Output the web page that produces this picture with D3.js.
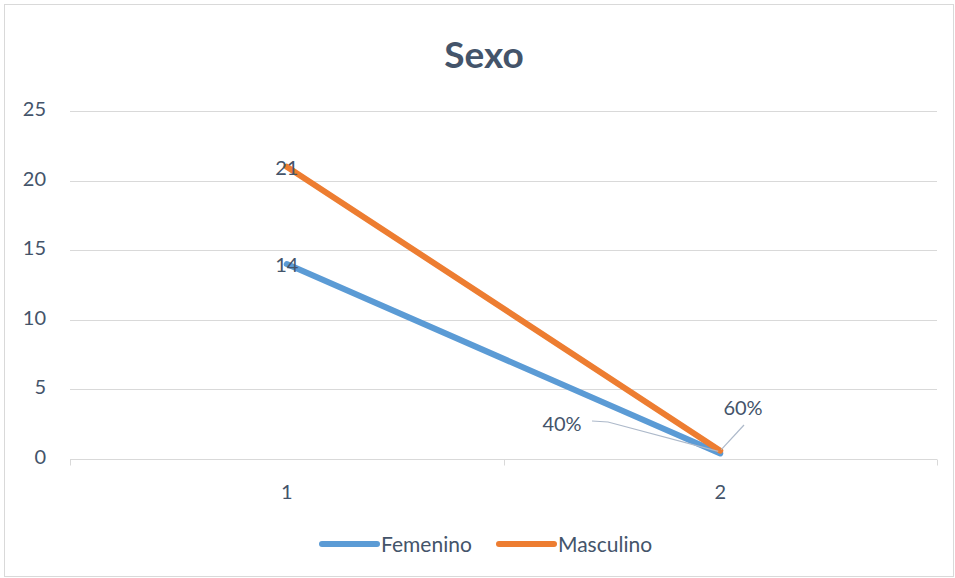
<!DOCTYPE html>
<html>
<head>
<meta charset="utf-8">
<script src="https://cdn.jsdelivr.net/npm/d3@7"></script>
<style>
  html, body { margin: 0; padding: 0; background: #fff; }
  svg { display: block; font-family: Lato, "Open Sans", sans-serif; }
</style>
</head>
<body>
<svg id="chart" width="955" height="578"></svg>
<script>
// Categories along the x axis
const categories = ["1", "2"];
// Series values per category
const femenino = [14, 0.4];
const masculino = [21, 0.6];
const seriesNames = ["Femenino", "Masculino"];
const seriesColors = ["#5B9BD5", "#ED7D31"];
// Y axis ticks
const yTicks = [0, 5, 10, 15, 20, 25];

const svg = d3.select("#chart");
const W = 955, H = 578;
const margin = { left: 70, right: 18, top: 111, bottom: 119 };
const textColor = "#44546A";

// chart frame
svg.append("rect")
  .attr("x", 4.5).attr("y", 4.5)
  .attr("width", W - 6).attr("height", H - 6)
  .attr("fill", "#fff").attr("stroke", "#D9D9D9").attr("stroke-width", 1);

const x = d3.scaleBand().domain(categories)
  .range([margin.left, W - margin.right]).padding(0);
const y = d3.scaleLinear().domain([0, 25])
  .range([H - margin.bottom, margin.top]);

// title
svg.append("text")
  .attr("x", 484).attr("y", 68)
  .attr("text-anchor", "middle")
  .attr("font-size", 37).attr("font-weight", "bold")
  .attr("fill", textColor)
  .text("Sexo");

// gridlines
svg.append("g").selectAll("line")
  .data(yTicks.filter(d => d > 0))
  .join("line")
  .attr("x1", margin.left).attr("x2", W - margin.right)
  .attr("y1", d => Math.round(y(d)) + 0.5).attr("y2", d => Math.round(y(d)) + 0.5)
  .attr("stroke", "#D9D9D9").attr("stroke-width", 1);

// y axis labels
const yAxis = svg.append("g")
  .attr("transform", `translate(${margin.left},0)`)
  .call(d3.axisLeft(y).tickValues(yTicks).tickSize(0).tickPadding(24));
yAxis.select(".domain").remove();
yAxis.selectAll("text")
  .attr("font-size", 20).attr("fill", textColor)
  .attr("font-family", "Lato, 'Open Sans', sans-serif")
  .attr("dy", "0.22em");

// x axis with category boundary ticks
const x0 = Math.round(y(0)) + 0.5;
const xAxisG = svg.append("g");
xAxisG.append("line")
  .attr("x1", margin.left).attr("x2", W - margin.right)
  .attr("y1", x0).attr("y2", x0)
  .attr("stroke", "#D9D9D9").attr("stroke-width", 1);
const boundaries = categories.map(c => x(c)).concat([x(categories[categories.length - 1]) + x.bandwidth()]);
xAxisG.selectAll("line.tick")
  .data(boundaries)
  .join("line").attr("class", "tick")
  .attr("x1", d => Math.round(d) + 0.5).attr("x2", d => Math.round(d) + 0.5)
  .attr("y1", x0).attr("y2", x0 + 6)
  .attr("stroke", "#D9D9D9").attr("stroke-width", 1);
xAxisG.selectAll("text")
  .data(categories)
  .join("text")
  .attr("x", d => x(d) + x.bandwidth() / 2)
  .attr("y", x0 + 39)
  .attr("text-anchor", "middle")
  .attr("font-size", 20).attr("fill", textColor)
  .text(d => d);

// lines
const cx = c => x(c) + x.bandwidth() / 2;
const series = [femenino, masculino];
const line = d3.line().x((d, i) => cx(categories[i])).y(d => y(d));
series.forEach((vals, si) => {
  svg.append("path")
    .datum(vals)
    .attr("d", line)
    .attr("fill", "none")
    .attr("stroke", seriesColors[si])
    .attr("stroke-width", 6)
    .attr("stroke-linecap", "round")
    .attr("stroke-linejoin", "round");
});

// data labels on the first category
const labG = svg.append("g").attr("font-size", 20).attr("fill", textColor);
series.forEach(vals => {
  labG.append("text")
    .attr("x", cx(categories[0]))
    .attr("y", y(vals[0]) + 8)
    .attr("text-anchor", "middle")
    .text(d3.format("d")(vals[0]));
});

// percentage labels with leader lines on the second category
const pct = d3.format(".0%");
const px2 = cx(categories[1]);
const leader = "#ADB9CA";
// Femenino
svg.append("polyline")
  .attr("points", [[592, 421], [608, 422], [px2 - 2, y(femenino[1]) - 2]].map(p => p.join(",")).join(" "))
  .attr("fill", "none").attr("stroke", leader).attr("stroke-width", 1.2);
labG.append("text")
  .attr("x", 562).attr("y", 431)
  .attr("text-anchor", "middle")
  .text(pct(femenino[1]));
// Masculino
svg.append("line")
  .attr("x1", 744).attr("y1", 425)
  .attr("x2", px2 + 1).attr("y2", y(masculino[1]) - 1)
  .attr("stroke", leader).attr("stroke-width", 1.2);
labG.append("text")
  .attr("x", 743).attr("y", 415)
  .attr("text-anchor", "middle")
  .text(pct(masculino[1]));

// legend
const legend = svg.append("g").attr("font-size", 21).attr("fill", textColor);
const legendItems = [
  { name: seriesNames[0], color: seriesColors[0], x: 322 },
  { name: seriesNames[1], color: seriesColors[1], x: 499 }
];
legendItems.forEach(it => {
  legend.append("line")
    .attr("x1", it.x).attr("x2", it.x + 55)
    .attr("y1", 544).attr("y2", 544)
    .attr("stroke", it.color).attr("stroke-width", 6)
    .attr("stroke-linecap", "round");
  legend.append("text")
    .attr("x", it.x + 59).attr("y", 551.5)
    .text(it.name);
});
</script>
</body>
</html>
